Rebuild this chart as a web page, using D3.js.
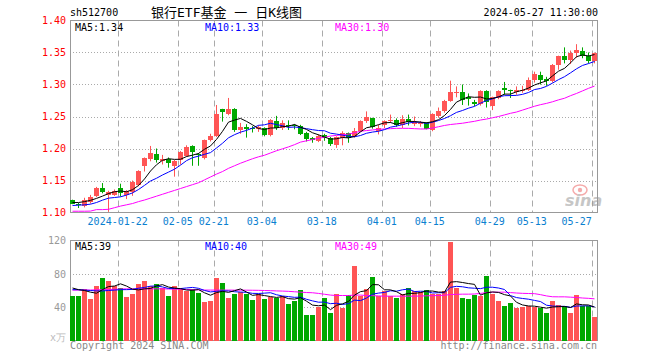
<!DOCTYPE html>
<html>
<head>
<meta charset="utf-8">
<script src="https://cdn.jsdelivr.net/npm/d3@7"></script>
<style>
body { margin: 0; background: #fff; }
svg { display: block; font-family: "DejaVu Sans Mono", monospace; }
</style>
</head>
<body>
<svg id="chart" width="660" height="360"></svg>
<script>
// trading days shown
const dates = ["2024-01-10","2024-01-11","2024-01-12","2024-01-15","2024-01-16","2024-01-17","2024-01-18","2024-01-19","2024-01-22","2024-01-23","2024-01-24","2024-01-25","2024-01-26","2024-01-29","2024-01-30","2024-01-31",
"2024-02-01","2024-02-02","2024-02-05","2024-02-06","2024-02-07","2024-02-08","2024-02-19","2024-02-20","2024-02-21","2024-02-22","2024-02-23","2024-02-26","2024-02-27","2024-02-28","2024-02-29",
"2024-03-01","2024-03-04","2024-03-05","2024-03-06","2024-03-07","2024-03-08","2024-03-11","2024-03-12","2024-03-13","2024-03-14","2024-03-15","2024-03-18","2024-03-19","2024-03-20","2024-03-21","2024-03-22","2024-03-25","2024-03-26","2024-03-27","2024-03-28","2024-03-29",
"2024-04-01","2024-04-02","2024-04-03","2024-04-08","2024-04-09","2024-04-10","2024-04-11","2024-04-12","2024-04-15","2024-04-16","2024-04-17","2024-04-18","2024-04-19","2024-04-22","2024-04-23","2024-04-24","2024-04-25","2024-04-26","2024-04-29","2024-04-30",
"2024-05-06","2024-05-07","2024-05-08","2024-05-09","2024-05-10","2024-05-13","2024-05-14","2024-05-15","2024-05-16","2024-05-17","2024-05-20","2024-05-21","2024-05-22","2024-05-23","2024-05-24","2024-05-27"];

const open = [1.119,1.114,1.110,1.116,1.126,1.139,1.128,1.128,1.138,1.128,1.132,1.143,1.172,1.183,1.191,1.181,1.184,1.173,1.182,1.189,
1.204,1.192,1.185,1.213,1.220,1.262,1.254,1.262,1.229,1.233,1.232,1.230,1.232,1.221,1.243,1.232,1.237,1.236,1.235,1.225,
1.216,1.212,1.221,1.216,1.205,1.216,1.224,1.219,1.228,1.243,1.247,1.228,1.236,1.243,1.245,1.237,1.246,1.239,1.238,1.240,
1.229,1.251,1.258,1.275,1.287,1.288,1.280,1.273,1.269,1.290,1.267,1.279,1.294,1.291,1.289,1.290,1.292,1.307,1.315,1.308,
1.305,1.331,1.345,1.338,1.350,1.352,1.344,1.336];
const high = [1.120,1.115,1.123,1.1275,1.140,1.146,1.134,1.136,1.145,1.135,1.150,1.166,1.186,1.204,1.200,1.190,1.186,1.182,1.196,1.205,
1.205,1.193,1.214,1.223,1.268,1.262,1.279,1.263,1.240,1.238,1.235,1.236,1.233,1.246,1.251,1.244,1.244,1.238,1.237,1.226,
1.218,1.222,1.223,1.218,1.219,1.227,1.225,1.232,1.244,1.258,1.248,1.237,1.244,1.253,1.247,1.252,1.253,1.250,1.243,1.241,
1.255,1.264,1.276,1.306,1.297,1.300,1.286,1.276,1.291,1.291,1.281,1.291,1.304,1.292,1.297,1.298,1.311,1.320,1.320,1.312,
1.332,1.345,1.358,1.353,1.363,1.358,1.350,1.350];
const low = [1.113,1.107,1.108,1.114,1.124,1.130,1.101,1.126,1.125,1.121,1.126,1.141,1.164,1.180,1.178,1.175,1.170,1.156,1.175,1.187,
1.173,1.173,1.183,1.211,1.218,1.242,1.252,1.226,1.223,1.217,1.225,1.226,1.219,1.219,1.229,1.229,1.229,1.230,1.221,1.211,
1.209,1.210,1.212,1.204,1.201,1.205,1.209,1.217,1.226,1.240,1.231,1.222,1.232,1.240,1.234,1.232,1.236,1.235,1.234,1.230,
1.227,1.248,1.256,1.273,1.280,1.268,1.267,1.266,1.267,1.264,1.260,1.277,1.284,1.279,1.284,1.287,1.290,1.303,1.300,1.298,
1.303,1.323,1.333,1.332,1.342,1.341,1.333,1.333];
const close = [1.114,1.112,1.120,1.125,1.139,1.132,1.132,1.134,1.131,1.133,1.148,1.165,1.185,1.193,1.182,1.183,1.177,1.180,1.194,1.203,
1.194,1.190,1.213,1.220,1.254,1.257,1.262,1.229,1.233,1.231,1.230,1.233,1.221,1.245,1.232,1.240,1.236,1.235,1.223,1.215,
1.214,1.220,1.217,1.207,1.218,1.224,1.217,1.228,1.243,1.250,1.233,1.232,1.243,1.245,1.236,1.246,1.242,1.242,1.240,1.231,
1.254,1.258,1.2745,1.288,1.288,1.276,1.278,1.270,1.290,1.273,1.280,1.290,1.292,1.290,1.291,1.292,1.307,1.316,1.307,1.306,
1.331,1.344,1.338,1.350,1.354,1.345,1.336,1.349];

const ma5 = [1.1156,1.1156,1.117,1.119,1.1220,1.1256,1.1296,1.1324,1.1336,1.1324,1.1356,1.1422,1.1524,1.1648,1.1746,1.1816,1.1840,1.1830,1.1832,1.1874,
1.1896,1.1922,1.1988,1.2040,1.2142,1.2268,1.2412,1.2444,1.2470,1.2424,1.2370,1.2312,1.2296,1.2320,1.2322,1.2342,1.2348,1.2376,1.2332,1.2298,
1.2246,1.2214,1.2178,1.2146,1.2152,1.2172,1.2166,1.2188,1.2260,1.2324,1.2342,1.2372,1.2402,1.2406,1.2378,1.2404,1.2424,1.2422,1.2412,1.2402,
1.2418,1.2450,1.2515,1.2611,1.2725,1.2769,1.2809,1.2800,1.2804,1.2774,1.2782,1.2806,1.2850,1.2850,1.2886,1.2910,1.2944,1.2992,1.3026,1.3056,
1.3134,1.3208,1.3252,1.3338,1.3434,1.3462,1.3446,1.3468];
const ma10 = [1.1109,1.1115,1.1120,1.1130,1.1156,1.1193,1.1224,1.1234,1.1245,1.1272,1.1306,1.1359,1.1424,1.1492,1.1535,1.1586,1.1631,1.1677,1.1740,1.1810,
1.1856,1.1881,1.1909,1.1936,1.2008,1.2082,1.2167,1.2216,1.2255,1.2283,1.2319,1.2362,1.2370,1.2395,1.2373,1.2356,1.2330,1.2336,1.2326,1.2310,
1.2294,1.2281,1.2277,1.2239,1.2225,1.2209,1.2190,1.2183,1.2203,1.2238,1.2257,1.2269,1.2295,1.2333,1.2351,1.2373,1.2398,1.2412,1.2409,1.2390,
1.2411,1.2437,1.2469,1.2512,1.2564,1.2594,1.2630,1.2658,1.2708,1.2750,1.2776,1.2808,1.2825,1.2827,1.2830,1.2846,1.2875,1.2921,1.2938,1.2971,
1.3022,1.3076,1.3122,1.3182,1.3245,1.3298,1.3327,1.3360];
const ma30 = [1.1020,1.1020,1.1020,1.1022,1.1045,1.1045,1.1050,1.1075,1.1100,1.1120,1.1140,1.1170,1.1195,1.1225,1.1255,1.1285,1.1315,1.1345,1.1375,1.1405,
1.1435,1.1465,1.1510,1.1555,1.1600,1.1640,1.1690,1.1730,1.1770,1.1805,1.1840,1.1870,1.1895,1.1930,1.1965,1.1995,1.2025,1.2060,1.2100,1.2120,
1.2140,1.2160,1.2175,1.2195,1.2205,1.2215,1.2225,1.2245,1.2270,1.2280,1.2290,1.2300,1.2305,1.2310,1.2315,1.2315,1.2315,1.2310,1.2305,1.2305,
1.2320,1.2340,1.2360,1.2375,1.2385,1.2395,1.2410,1.2425,1.2445,1.2460,1.2480,1.2500,1.2525,1.2550,1.2570,1.2600,1.2630,1.2660,1.2685,1.2705,
1.2730,1.2760,1.2785,1.2825,1.2860,1.2900,1.2940,1.2975];

// volume, 万
const vol = [53.2,53.2,62,50,65.2,74.8,71.6,65.2,63.2,52,55.6,67.6,71.6,65.2,67.6,63.2,53.2,65.2,62,59.2,
62,57.2,46,47.2,75.2,69.2,51.2,56,58,56.4,49.2,56,50,52,51.2,54,44,47.2,60.4,30.4,
30.4,40,51.2,33.2,56.4,39.2,54.4,89.2,54,62,76,53.2,59.2,53.2,51.2,56.4,62.8,59.2,58,60.4,
56.4,56.4,59.2,118,63.2,51.2,50,54.4,53.2,77.2,56.4,47.2,41.2,45.2,39.2,40.4,41.2,40,39.2,33.2,
47.2,43.2,41.2,33.2,54.8,42,42,28];
const vma5 = [63,61,60,58,56.72,61.04,64.72,65.36,68,65.36,61.52,60.72,62,62.4,65.52,67.04,64.16,62.88,62.24,60.56,
60.32,61.12,57.28,54.32,57.52,58.96,57.76,59.76,61.92,58.16,54.16,55.12,53.92,52.72,51.68,52.64,50.24,49.68,51.36,47.2,
42.48,41.68,42.48,37.04,42.24,44,46.88,54.48,58.64,59.76,67.12,66.88,60.88,60.72,58.56,54.64,56.56,56.56,57.52,59.36,
59.36,58.08,58.08,70.08,70.64,69.6,68.32,67.36,54.4,57.2,58.24,57.68,55.04,53.44,45.84,42.64,41.44,41.2,40,38.8,
40.16,40.56,40.8,39.6,43.92,42.88,42.64,40];
const vma10 = [61,61,60.5,60,59.5,59.5,60,60.5,61,61.04,61.28,62.72,63.68,65.2,65.44,64.28,62.44,62.44,62.32,63.04,
63.68,62.64,60.08,58.28,59.04,59.64,59.44,58.52,58.12,57.84,56.56,56.44,56.84,57.32,54.92,53.4,52.68,51.8,52.04,49.44,
47.56,45.96,46.08,44.2,44.72,43.24,44.28,48.48,47.84,51,55.56,56.88,57.68,59.68,59.16,60.88,61.72,58.72,59.12,58.96,
57,57.32,57.32,63.8,65,64.48,63.2,62.72,62.24,63.92,63.92,63,61.2,53.92,51.52,50.44,49.56,48.12,46.72,42.32,
41.4,41,41,39.8,41.36,41.52,41.6,40.4];
const vma30 = [60.5,60.5,60.5,60.6,60.8,61,61.2,61.5,61.8,62,62,62,62,62,62,62,61.8,61.6,61.5,61.3,
61,60.8,60.5,60.5,60.5,60.5,60.5,60.4,60.4,60.4,60.3,60.2,60,59.8,59.5,59.3,59,58.5,58,57.6,
57.3,56.5,55.5,54.5,54,54,54,54.5,54.5,54,53.8,53.5,53.2,53.2,53.2,53.2,53.2,53.2,53.4,53.6,
53.8,54,54.3,55.2,55.4,55.6,55.6,55.8,56.5,57.5,58,58,58,57.5,57,56.6,56.4,56.2,55,53.5,
52.5,52.4,52.4,52,51.6,51,50.6,50];

const tickDates = ["2024-01-22","2024-02-05","2024-02-21","2024-03-04","2024-03-18","2024-04-01","2024-04-15","2024-04-29","2024-05-13","2024-05-27"];
const priceTicks = [1.10,1.15,1.20,1.25,1.30,1.35,1.40];
const volTicks = [40,80,120];

const RED = "#ff5555", GREEN = "#00a800", GRID = "#aaaaaa";
const left = 70, right = 597;
const mainTop = 20.5, mainBot = 212.5, volTop = 240.5, volBot = 340.5;

const svg = d3.select("#chart");

const x = d3.scaleBand().domain(dates).range([69.2, 597.2]).paddingInner(1/6).paddingOuter(1/12);
const y = d3.scaleLinear().domain([1.10, 1.40]).range([mainBot, mainTop]);
const yv = d3.scaleLinear().domain([0, 120]).range([volBot, volTop]);
const bx = d => Math.round(x(d));
const cx = d => Math.round(x(d)) + 2.5;
const gx = d => Math.round(x(d)) + 0.5;

const rows = dates.map((d, i) => ({date: d, o: open[i], h: high[i], l: low[i], c: close[i], v: vol[i]}));
const col = r => r.c >= r.o ? RED : GREEN;

// ---- grids
function hgrid(vals, sc) {
    svg.append("g").selectAll("line").data(vals).enter().append("line")
        .attr("x1", left).attr("x2", right)
        .attr("y1", d => Math.round(sc(d)) + 0.5).attr("y2", d => Math.round(sc(d)) + 0.5)
        .attr("stroke", GRID).attr("stroke-dasharray", "1,2");
}
function vgrid(y1, y2) {
    svg.append("g").selectAll("line").data(tickDates).enter().append("line")
        .attr("x1", gx).attr("x2", gx).attr("y1", y1).attr("y2", y2)
        .attr("stroke", GRID).attr("stroke-dasharray", "6,4");
}
hgrid([1.15, 1.20, 1.25, 1.30, 1.35], y);
vgrid(mainTop, mainBot);
hgrid([40, 80], yv);
vgrid(volTop, volBot);

// sina watermark
const wm = svg.append("g").attr("opacity", 0.55);
wm.append("ellipse").attr("cx", 580).attr("cy", 190).attr("rx", 7).attr("ry", 5)
    .attr("fill", "none").attr("stroke", "#ee6666").attr("stroke-width", 1.5);
wm.append("circle").attr("cx", 580).attr("cy", 190).attr("r", 2.2).attr("fill", "#ee6666");
wm.append("text").attr("x", 565).attr("y", 206).attr("font-family", "DejaVu Sans")
    .attr("font-size", "16px").attr("font-style", "italic").attr("font-weight", "bold")
    .attr("fill", "#999").text("sina");

// borders
[[mainTop, mainBot], [volTop, volBot]].forEach(b => {
    svg.append("rect").attr("x", left + 0.5).attr("y", b[0]).attr("width", right - left)
        .attr("height", b[1] - b[0]).attr("fill", "none").attr("stroke", "#999");
});

// ---- candles
const cg = svg.append("g");
cg.selectAll("line").data(rows).enter().append("line")
    .attr("x1", d => cx(d.date)).attr("x2", d => cx(d.date))
    .attr("y1", d => y(d.h)).attr("y2", d => y(d.l))
    .attr("stroke", col);
cg.selectAll("rect").data(rows).enter().append("rect")
    .attr("x", d => bx(d.date)).attr("width", x.bandwidth())
    .attr("y", d => y(Math.max(d.o, d.c)))
    .attr("height", d => Math.max(1, Math.abs(y(d.o) - y(d.c))))
    .attr("fill", col).attr("shape-rendering", "crispEdges");

// ---- volume bars
svg.append("g").selectAll("rect").data(rows).enter().append("rect")
    .attr("x", d => bx(d.date)).attr("width", x.bandwidth())
    .attr("y", d => yv(d.v)).attr("height", d => volBot - yv(d.v))
    .attr("fill", col).attr("shape-rendering", "crispEdges");

// ---- moving averages
function maLine(vals, sc, color) {
    const line = d3.line().x((d, i) => cx(dates[i])).y(d => sc(d));
    svg.append("path").datum(vals).attr("d", line)
        .attr("fill", "none").attr("stroke", color).attr("stroke-width", 1);
}
maLine(ma30, y, "#ff00ff");
maLine(ma10, y, "#0000ff");
maLine(ma5, y, "#000000");
maLine(vma30, yv, "#ff00ff");
maLine(vma10, yv, "#0000ff");
maLine(vma5, yv, "#000000");

// ---- axes
const ya = svg.append("g").attr("transform", "translate(" + left + ",0)")
    .call(d3.axisLeft(y).tickValues(priceTicks).tickFormat(d3.format(".2f")).tickSize(0).tickPadding(4));
ya.select(".domain").remove();
ya.selectAll("text").attr("fill", "#ff0000").attr("font-size", "10px").attr("font-family", "DejaVu Sans Mono");

const va = svg.append("g").attr("transform", "translate(" + left + ",0)")
    .call(d3.axisLeft(yv).tickValues(volTicks).tickFormat(d3.format("d")).tickSize(0).tickPadding(4));
va.select(".domain").remove();
va.selectAll("text").attr("fill", "#999").attr("font-size", "10px").attr("font-family", "DejaVu Sans Mono");

const xa = svg.append("g").attr("transform", "translate(" + (-x.bandwidth() / 2) + "," + mainBot + ")")
    .call(d3.axisBottom(x).tickValues(tickDates).tickFormat((d, i) => i === 0 ? d : d.slice(5)).tickSize(0).tickPadding(5));
xa.select(".domain").remove();
xa.selectAll("text").attr("fill", "#0a80d0").attr("font-size", "10px").attr("font-family", "DejaVu Sans Mono");
xa.selectAll("text").filter(d => d === tickDates[tickDates.length - 1]).attr("text-anchor", "end");

// ---- texts
function txt(xp, yp, s, color, size, anchor) {
    return svg.append("text").attr("x", xp).attr("y", yp).attr("fill", color)
        .attr("font-size", size || "10px").attr("text-anchor", anchor || "start").text(s);
}
txt(70, 16, "sh512700", "#000");
txt(151, 17, "银行ETF基金 一 日K线图", "#000", "13px")
    .attr("font-family", "\"DejaVu Sans Mono\",\"Noto Sans CJK SC\"");
txt(598, 16, "2024-05-27 11:30:00", "#000", "10px", "end");

txt(75, 30.5, "MA5:" + d3.format(".2f")(ma5[ma5.length - 1] - 0.005), "#000");
txt(205, 30.5, "MA10:" + d3.format(".2f")(ma10[ma10.length - 1] - 0.005), "#0000ff");
txt(335, 30.5, "MA30:" + d3.format(".2f")(ma30[ma30.length - 1] + 0.0025), "#ff00ff");

txt(75, 250, "MA5:39", "#000");
txt(205, 250, "MA10:40", "#0000ff");
txt(335, 250, "MA30:49", "#ff00ff");

txt(66, 341, "x万", "#bbb", "10px", "end");
txt(70, 349, "Copyright 2024 SINA.COM", "#888");
txt(597, 349, "http://finance.sina.com.cn", "#888", "10px", "end");
</script>
</body>
</html>
